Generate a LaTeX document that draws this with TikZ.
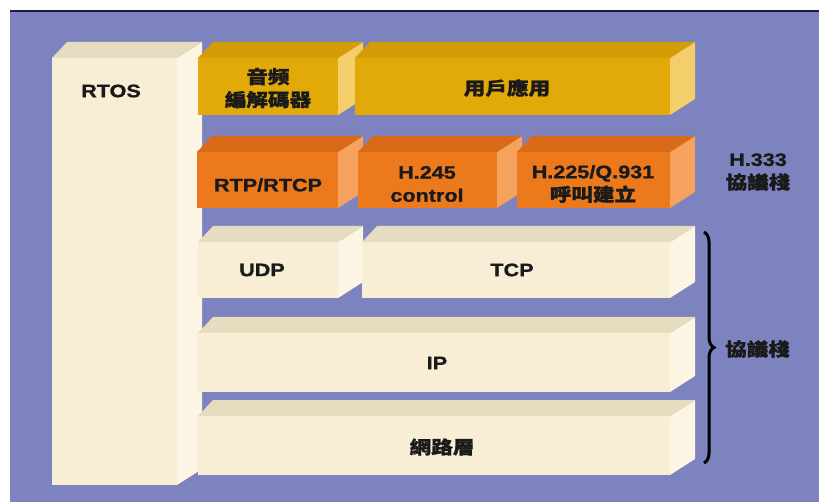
\documentclass[tikz,border=0pt]{standalone}
\usepackage{fontspec}
\setmainfont{Liberation Sans}[FakeStretch=1.2, BoldFeatures={FakeBold=1.2}]
\newfontfamily\cjk{Noto Sans CJK TC}[FakeStretch=1.2, BoldFeatures={FakeBold=1.2}]
\usetikzlibrary{decorations.pathreplacing}
\definecolor{bgblue}{HTML}{7D83BE}
\definecolor{topline}{HTML}{1A1F4A}
\definecolor{creamfront}{HTML}{F8EED6}
\definecolor{creamtop}{HTML}{E6DCC0}
\definecolor{creamside}{HTML}{FCF5E4}
\definecolor{yelfront}{HTML}{E2AA08}
\definecolor{yeltop}{HTML}{D49C06}
\definecolor{yelside}{HTML}{F3CE6A}
\definecolor{orgfront}{HTML}{EC7A1C}
\definecolor{orgtop}{HTML}{D86A18}
\definecolor{orgside}{HTML}{F4A25E}
\definecolor{txt}{HTML}{1A1A1A}
\newcommand\blockbox[5]{%
  \fill[#5side] (#3,#2) -- (#3+25,#2-16) -- (#3+25,#4-16) -- (#3,#4) -- cycle;
  \fill[#5top] (#1,#2) -- (#1+15,#2-16) -- (#3+25,#2-16) -- (#3,#2) -- cycle;
  \fill[#5front] (#1,#2) rectangle (#3,#4);
}
\begin{document}
\begin{tikzpicture}[x=1pt,y=-1pt,
  lbl/.style={font=\fontsize{18}{23}\selectfont\bfseries, align=center, inner sep=0pt, text=txt}]
\useasboundingbox (0,0) rectangle (819,502);
\fill[white] (0,0) rectangle (819,502);
\fill[bgblue] (10,12) rectangle (819,502);
\fill[topline] (10,10.5) rectangle (819,12.5);
% RTOS column
\blockbox{52}{58}{177}{485}{cream}
% application row
\blockbox{198}{58}{338}{115}{yel}
\blockbox{355}{58}{670}{115}{yel}
% H.323 row
\blockbox{197}{152}{338}{208}{org}
\blockbox{358}{152}{497}{208}{org}
\blockbox{517}{152}{670}{208}{org}
% transport rows
\blockbox{198}{242}{338}{298}{cream}
\blockbox{362}{242}{670}{298}{cream}
\blockbox{198}{333}{670}{392}{cream}
\blockbox{198}{416}{670}{475}{cream}
% labels
\node[lbl] (rtos) at (111,91) {RTOS};
\node[lbl] (codec) at (268,88) {\cjk 音频\\\cjk 編解碼器};
\node[lbl] (app) at (507,88) {\cjk 用戶應用};
\node[lbl] (rtp) at (268,185) {RTP/RTCP};
\node[lbl] (h245) at (427,184) {H.245\\control};
\node[lbl] (h225) at (593,184) {H.225/Q.931\\\cjk 呼叫建立};
\node[lbl] (h333) at (758,172) {H.333\\\cjk 協議棧};
\node[lbl] (udp) at (262,270) {UDP};
\node[lbl] (tcp) at (512,270) {TCP};
\node[lbl] (ip) at (437,363) {IP};
\node[lbl] (net) at (442,447) {\cjk 網路層};
\node[lbl, anchor=west] (stack) at (725,349) {\cjk 協議棧};
% brace
\coordinate (bt) at (704,232);
\coordinate (bb) at (704,463);
\draw[line width=3pt, black, decorate, decoration={brace, amplitude=10pt}] (bt) -- (bb);
\end{tikzpicture}
\end{document}
